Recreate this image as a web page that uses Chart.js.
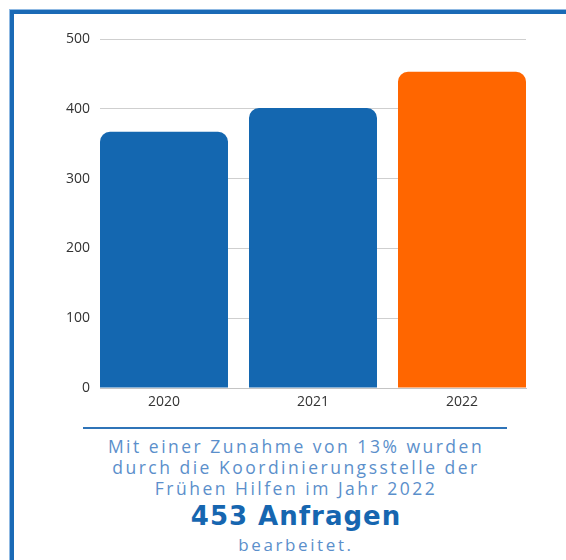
<!DOCTYPE html>
<html>
<head>
<meta charset="utf-8">
<script src="https://cdn.jsdelivr.net/npm/chart.js@4.4.1/dist/chart.umd.min.js"></script>
<style>
  html, body { margin: 0; padding: 0; background: #fff; }
  body { width: 566px; height: 560px; position: relative; overflow: hidden; font-family: "Open Sans", sans-serif; }
  #frame { position: absolute; left: 10px; top: 10px; width: 600px; height: 600px;
           border-top: 4px solid #1a6ab6; border-left: 4px solid #1a6ab6;
           box-shadow: -1px -1px 0 #8fb9e3; }
  #wrap { position: absolute; left: 0; top: 0; width: 566px; height: 420px; }
  #rule { position: absolute; left: 83px; top: 427px; width: 424px; height: 2px; background: #2f74b8; }
  .txt { position: absolute; left: 0; width: 592px; text-align: center; color: #5b8fcb; }
  .p { font-size: 17.5px; font-weight: 400; letter-spacing: 2.5px; line-height: 21px; }
  .big { font-size: 26px; font-weight: 700; color: #1666b0; letter-spacing: 1px; font-family: "DejaVu Sans", sans-serif; }
</style>
</head>
<body>
<div id="frame"></div>
<div id="wrap"><canvas id="c" width="566" height="420"></canvas></div>
<div id="rule"></div>
<div class="txt p" style="top:436px;">Mit einer Zunahme von 13% wurden<br>durch die Koordinierungsstelle der<br>Frühen Hilfen im Jahr 2022</div>
<div class="txt big" style="top:501px;">453 Anfragen</div>
<div class="txt p" style="top:534px; letter-spacing:2.6px; font-size:17px;">bearbeitet.</div>
<script>
const categories = ['2020', '2021', '2022'];
const values = [367, 401, 453];
const barColors = ['#1467b0', '#1467b0', '#ff6600'];
const yTicks = [0, 100, 200, 300, 400, 500];

const points = values.map((v, i) => ({ x: i, y: v }));

new Chart(document.getElementById('c'), {
  type: 'bar',
  data: {
    datasets: [{
      data: points,
      backgroundColor: barColors,
      borderRadius: 10,
      borderSkipped: 'start',
      barPercentage: 1,
      categoryPercentage: 0.859
    }]
  },
  options: {
    responsive: false,
    animation: false,
    devicePixelRatio: 1,
    layout: { padding: { left: 0, right: 40, top: 39, bottom: 0 } },
    plugins: { legend: { display: false }, tooltip: { enabled: false } },
    scales: {
      x: {
        type: 'linear',
        min: -0.4295,
        max: 2.4295,
        offset: false,
        grid: { display: false, drawTicks: false },
        border: { display: true, color: '#c4c4c4', width: 1 },
        afterFit: s => { s.height = 32; },
        afterBuildTicks: s => { s.ticks = categories.map((c, i) => ({ value: i })); },
        ticks: {
          padding: 6,
          color: '#333',
          font: { family: 'Open Sans', size: 14 },
          callback: v => categories[v]
        }
      },
      y: {
        min: 0,
        max: 500,
        afterFit: s => { s.width = 100; },
        afterBuildTicks: s => { s.ticks = yTicks.map(v => ({ value: v })); },
        grid: { color: '#cfcfcf', lineWidth: 1, drawTicks: false },
        border: { display: false },
        ticks: {
          padding: 10,
          color: '#333',
          font: { family: 'Open Sans', size: 14 }
        }
      }
    }
  }
});
</script>
</body>
</html>
